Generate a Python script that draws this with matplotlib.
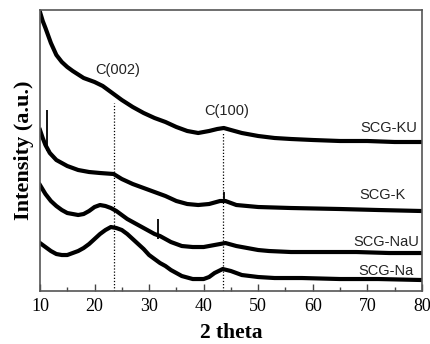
import numpy as np
import matplotlib
matplotlib.use("Agg")
import matplotlib.pyplot as plt
from matplotlib.ticker import MultipleLocator

# XRD patterns (arbitrary intensity units, offset as drawn)
ku_x = [10, 10.5, 11, 12, 13, 14, 15, 16, 18, 20, 21.5, 23.5, 25, 27, 29, 31, 33, 35,
        37, 39, 41, 42.5, 43.7, 45, 47, 50, 53, 56, 60, 65, 70, 75, 80]
ku_y = [279, 270, 263, 248, 236, 229, 224, 220, 213, 209, 205, 197, 191, 184, 178, 173, 169, 164,
        160, 158, 160, 162, 163, 161, 158, 155, 153, 152, 151, 150, 150, 149, 149]

k_x = [10, 10.5, 11, 11.8, 13, 14, 15, 17, 19, 21, 23.5, 25, 27, 29, 31, 33,
       35, 37, 39, 41, 43, 44, 46, 50, 56, 65, 72, 80]
k_y = [161, 153, 146, 138, 131, 128, 125, 121, 119, 118, 117, 112, 107, 103, 99, 95,
       90, 87, 86, 87, 90, 90, 86, 84, 83, 82, 81, 80]

nau_x = [10, 11, 12, 13, 14, 15, 16, 17, 18, 19, 20, 21, 22, 23, 24, 25, 26, 27, 28, 29, 30, 31,
         32, 33, 34, 36, 38, 40, 42, 44, 46, 48, 50, 52, 56, 62, 68, 74, 80]
nau_y = [106, 97, 90, 85, 81, 78, 77, 76, 77, 80, 84, 86, 85, 83, 80, 76, 72, 69, 66, 63, 60, 57,
         55, 52, 49, 45, 44, 44, 46, 48, 45, 43, 41, 40, 39, 39, 39, 38, 38]

na_x = [10, 11, 12, 13, 14, 15, 16, 17, 18, 19, 20, 21, 22, 23, 24, 25, 26, 27, 28, 29, 30, 31,
        32, 33, 34, 35, 36, 38, 40, 41, 42, 43.5, 45, 47, 50, 53, 58, 65, 72, 80]
na_y = [48, 44, 40, 37, 36, 36, 38, 40, 43, 47, 52, 57, 61, 64, 63, 61, 57, 52, 47, 42, 36, 32,
        28, 25, 21, 18, 15, 12, 12, 14, 18, 22, 20, 16, 14, 13, 13, 12, 12, 11]

# sharp single-channel spikes (position, base, top)
spike_x = [11.3, 43.7, 31.6]
spike_lo = [140, 88, 52]
spike_hi = [181, 99, 72]

names = ["SCG-KU", "SCG-K", "SCG-NaU", "SCG-Na"]
name_x = [79.1, 77.1, 79.5, 78.5]
name_y = [163, 96, 49, 20]

peak_pos = [23.5, 43.6]
peak_top = [188, 159]
peak_names = ["C(002)", "C(100)"]
peak_label_x = [24.3, 44.2]
peak_label_y = [221, 180]

serif = "Liberation Serif"
sans = "Liberation Sans"

fig = plt.figure(figsize=(4.3, 3.44), dpi=100)
ax = fig.add_axes([0.093, 0.154, 0.888, 0.817])

for xs, ys in [(ku_x, ku_y), (k_x, k_y), (nau_x, nau_y), (na_x, na_y)]:
    ax.plot(xs, ys, color="black", lw=3.0, solid_joinstyle="round")

ax.vlines(spike_x, spike_lo, spike_hi, colors="black", lw=1.3)
ax.vlines(peak_pos, 0, peak_top, colors="black", linestyles=(0, (1, 1.5)), lw=0.9)

for lx, ly, s in zip(peak_label_x, peak_label_y, peak_names):
    ax.text(lx, ly, s, ha="center", va="center", fontsize=10.5, family=sans, color="#222222")

for lx, ly, s in zip(name_x, name_y, names):
    ax.text(lx, ly, s, ha="right", va="center", fontsize=10.5, family=sans, color="#222222")

ax.set_xlim(10, 80)
ax.set_ylim(0, 281)
ax.xaxis.set_major_locator(MultipleLocator(10))
ax.xaxis.set_minor_locator(MultipleLocator(5))
ax.tick_params(axis="x", which="major", direction="in", length=5, width=1, colors="#444444",
               labelcolor="black", labelsize=13, pad=5)
ax.tick_params(axis="x", which="minor", direction="in", length=3, width=1, colors="#444444")
ax.set_yticks([])
for lab in ax.get_xticklabels():
    lab.set_family(serif)
for sp in ax.spines.values():
    sp.set_color("#555555")
    sp.set_linewidth(1.2)

ax.set_xlabel("2 theta", family=serif, fontsize=15.5, fontweight="bold", labelpad=6)
ax.set_ylabel("Intensity (a.u.)", family=serif, fontsize=16, fontweight="bold", labelpad=4)

fig.savefig("out.png", dpi=100)
